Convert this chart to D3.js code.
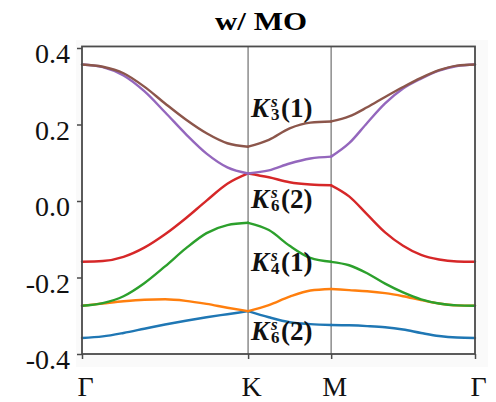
<!DOCTYPE html>
<html>
<head>
<meta charset="utf-8">
<script src="https://cdn.jsdelivr.net/npm/d3@7"></script>
<style>
  html, body { margin: 0; padding: 0; background: #ffffff; }
  svg { display: block; }
</style>
</head>
<body>
<div id="chart"></div>
<script>
// Path through the Brillouin zone: Γ → K → M → Γ (lengths 4/3, 2/3, 2/√3)
const kPath = [
  0.0000, 0.1667, 0.3333, 0.5000, 0.6667, 0.8333, 1.0000, 1.1667, 1.3333,
  1.5000, 1.6667, 1.8333, 2.0000,
  2.1443, 2.2887, 2.4330, 2.5774, 2.7217, 2.8660, 3.0104, 3.1547
];
// indices where the path changes direction (K and M)
const segmentBreaks = [0, 8, 12, 20];

const symPoints = [0, 1.3333, 2.0, 3.1547];
const symLabels = ["Γ", "K", "M", "Γ"];

const yTicks = [0.4, 0.2, 0.0, -0.2, -0.4];
const yTickLabels = ["0.4", "0.2", "0.0", "-0.2", "-0.4"];

// band energies along kPath, lowest to highest
const band1 = [-0.358, -0.354, -0.345, -0.334, -0.323, -0.313, -0.304, -0.296, -0.288,
               -0.304, -0.317, -0.322, -0.324,
               -0.325, -0.327, -0.330, -0.336, -0.345, -0.353, -0.357, -0.358];
const band2 = [-0.274, -0.268, -0.262, -0.258, -0.257, -0.261, -0.269, -0.279, -0.288,
               -0.272, -0.250, -0.234, -0.230,
               -0.233, -0.236, -0.241, -0.249, -0.259, -0.268, -0.273, -0.274];
const band3 = [-0.274, -0.267, -0.249, -0.215, -0.171, -0.124, -0.084, -0.063, -0.057,
               -0.076, -0.117, -0.149, -0.159,
               -0.168, -0.189, -0.216, -0.239, -0.257, -0.268, -0.273, -0.274];
const band4 = [-0.159, -0.157, -0.146, -0.122, -0.087, -0.045, 0.001, 0.045, 0.072,
               0.062, 0.049, 0.043, 0.041,
               0.012, -0.035, -0.082, -0.117, -0.141, -0.153, -0.158, -0.159];
const band5 = [0.357, 0.350, 0.328, 0.287, 0.232, 0.175, 0.124, 0.088, 0.072,
               0.080, 0.098, 0.111, 0.116,
               0.151, 0.204, 0.255, 0.294, 0.320, 0.341, 0.353, 0.357];
const band6 = [0.357, 0.351, 0.334, 0.299, 0.255, 0.213, 0.177, 0.151, 0.142,
               0.160, 0.190, 0.205, 0.208,
               0.221, 0.245, 0.272, 0.298, 0.322, 0.342, 0.354, 0.357];

const bands = [band1, band2, band3, band4, band5, band6];
const bandColors = ["#1f77b4", "#ff7f0e", "#2ca02c", "#d62728", "#9467bd", "#8c564b"];

// irreducible-representation annotations at K
const annoSub = ["3", "6", "4", "6"];
const annoIndex = ["(1)", "(2)", "(1)", "(2)"];
const annoEnergy = [0.22, -0.018, -0.183, -0.363];

const width = 496, height = 402;
const margin = { left: 82, right: 21, top: 48, bottom: 48 };

const svg = d3.select("#chart").append("svg")
  .attr("width", width).attr("height", height);

const x = d3.scaleLinear()
  .domain([0, symPoints[symPoints.length - 1]])
  .range([margin.left, width - margin.right]);
const y = d3.scaleLinear()
  .domain([-0.4, 0.4])
  .range([height - margin.bottom, margin.top]);

const serif = "'Liberation Serif', 'Times New Roman', serif";

// faint figure panel
svg.append("rect")
  .attr("x", 76).attr("y", 40)
  .attr("width", 412).attr("height", 327)
  .attr("fill", "#fafafa");

// title
svg.append("text")
  .attr("x", 261).attr("y", 30)
  .attr("text-anchor", "middle")
  .style("font-family", serif)
  .style("font-weight", "bold")
  .style("font-size", "25px")
  .attr("textLength", 92)
  .attr("lengthAdjust", "spacingAndGlyphs")
  .text("w/ MO");

// plot area
svg.append("rect")
  .attr("x", x.range()[0]).attr("y", y(0.404))
  .attr("width", x.range()[1] - x.range()[0])
  .attr("height", y(-0.4) - y(0.404))
  .attr("fill", "#ffffff");

// vertical lines at interior high-symmetry points
svg.append("g").selectAll("line")
  .data(symPoints.slice(1, -1))
  .join("line")
  .attr("x1", d => x(d)).attr("x2", d => x(d))
  .attr("y1", y(0.404)).attr("y2", y(-0.4))
  .attr("stroke", "#8c8c8c")
  .attr("stroke-width", 1.5);

// bands, drawn segment by segment so kinks at K and M are kept
const line = d3.line()
  .x(d => x(d[0]))
  .y(d => y(d[1]))
  .curve(d3.curveMonotoneX);

const bandG = svg.append("g");
bands.forEach((band, bi) => {
  for (let s = 0; s < segmentBreaks.length - 1; s++) {
    const pts = [];
    for (let i = segmentBreaks[s]; i <= segmentBreaks[s + 1]; i++) {
      pts.push([kPath[i], band[i]]);
    }
    bandG.append("path")
      .attr("d", line(pts))
      .attr("fill", "none")
      .attr("stroke", bandColors[bi])
      .attr("stroke-width", 2.4)
      .attr("stroke-linecap", "round")
      .attr("stroke-linejoin", "round");
  }
});

// frame
svg.append("rect")
  .attr("x", x.range()[0]).attr("y", y(0.404))
  .attr("width", x.range()[1] - x.range()[0])
  .attr("height", y(-0.4) - y(0.404))
  .attr("fill", "none")
  .attr("stroke", "#4a4a4a")
  .attr("stroke-width", 1.8);

// y axis
const yAxis = svg.append("g")
  .attr("transform", `translate(${x.range()[0]},0)`)
  .call(d3.axisLeft(y)
    .tickValues(yTicks)
    .tickSize(5)
    .tickFormat((d, i) => yTickLabels[i]));
yAxis.attr("font-family", null).attr("font-size", null);
yAxis.select(".domain").remove();
yAxis.selectAll(".tick line").attr("stroke", "#4a4a4a").attr("stroke-width", 1.5);
yAxis.selectAll(".tick text")
  .attr("x", -12)
  .attr("dy", "0.53em")
  .style("font-family", serif)
  .style("font-size", "28px")
  .attr("fill", "#111");

// x axis
const xAxis = svg.append("g")
  .attr("transform", `translate(0,${y(-0.4)})`)
  .call(d3.axisBottom(x)
    .tickValues(symPoints)
    .tickSize(5)
    .tickFormat((d, i) => symLabels[i]));
xAxis.attr("font-family", null).attr("font-size", null);
xAxis.select(".domain").remove();
xAxis.selectAll(".tick line").attr("stroke", "#4a4a4a").attr("stroke-width", 1.5);
xAxis.selectAll(".tick text")
  .attr("x", 3)
  .attr("y", 22)
  .attr("dy", "0.71em")
  .style("font-family", serif)
  .style("font-size", "28px")
  .attr("fill", "#111");

// annotations K_n^s(m), one text element each with stacked super/subscript
const annoG = svg.append("g")
  .style("font-family", serif)
  .style("font-weight", "bold")
  .attr("fill", "#111");
annoEnergy.forEach((e, i) => {
  const x0 = x(symPoints[1]) + 3;
  const t = annoG.append("text").attr("x", x0).attr("y", y(e));
  t.append("tspan")
    .style("font-size", "27px").style("font-style", "italic")
    .text("K");
  t.append("tspan")
    .attr("x", x0 + 20).attr("dy", -10)
    .style("font-size", "17px").style("font-style", "italic")
    .text("s");
  t.append("tspan")
    .attr("x", x0 + 20).attr("dy", 13)
    .style("font-size", "17px")
    .text(annoSub[i]);
  t.append("tspan")
    .attr("x", x0 + 30).attr("dy", -3)
    .style("font-size", "27px")
    .text(annoIndex[i]);
});
</script>
</body>
</html>
